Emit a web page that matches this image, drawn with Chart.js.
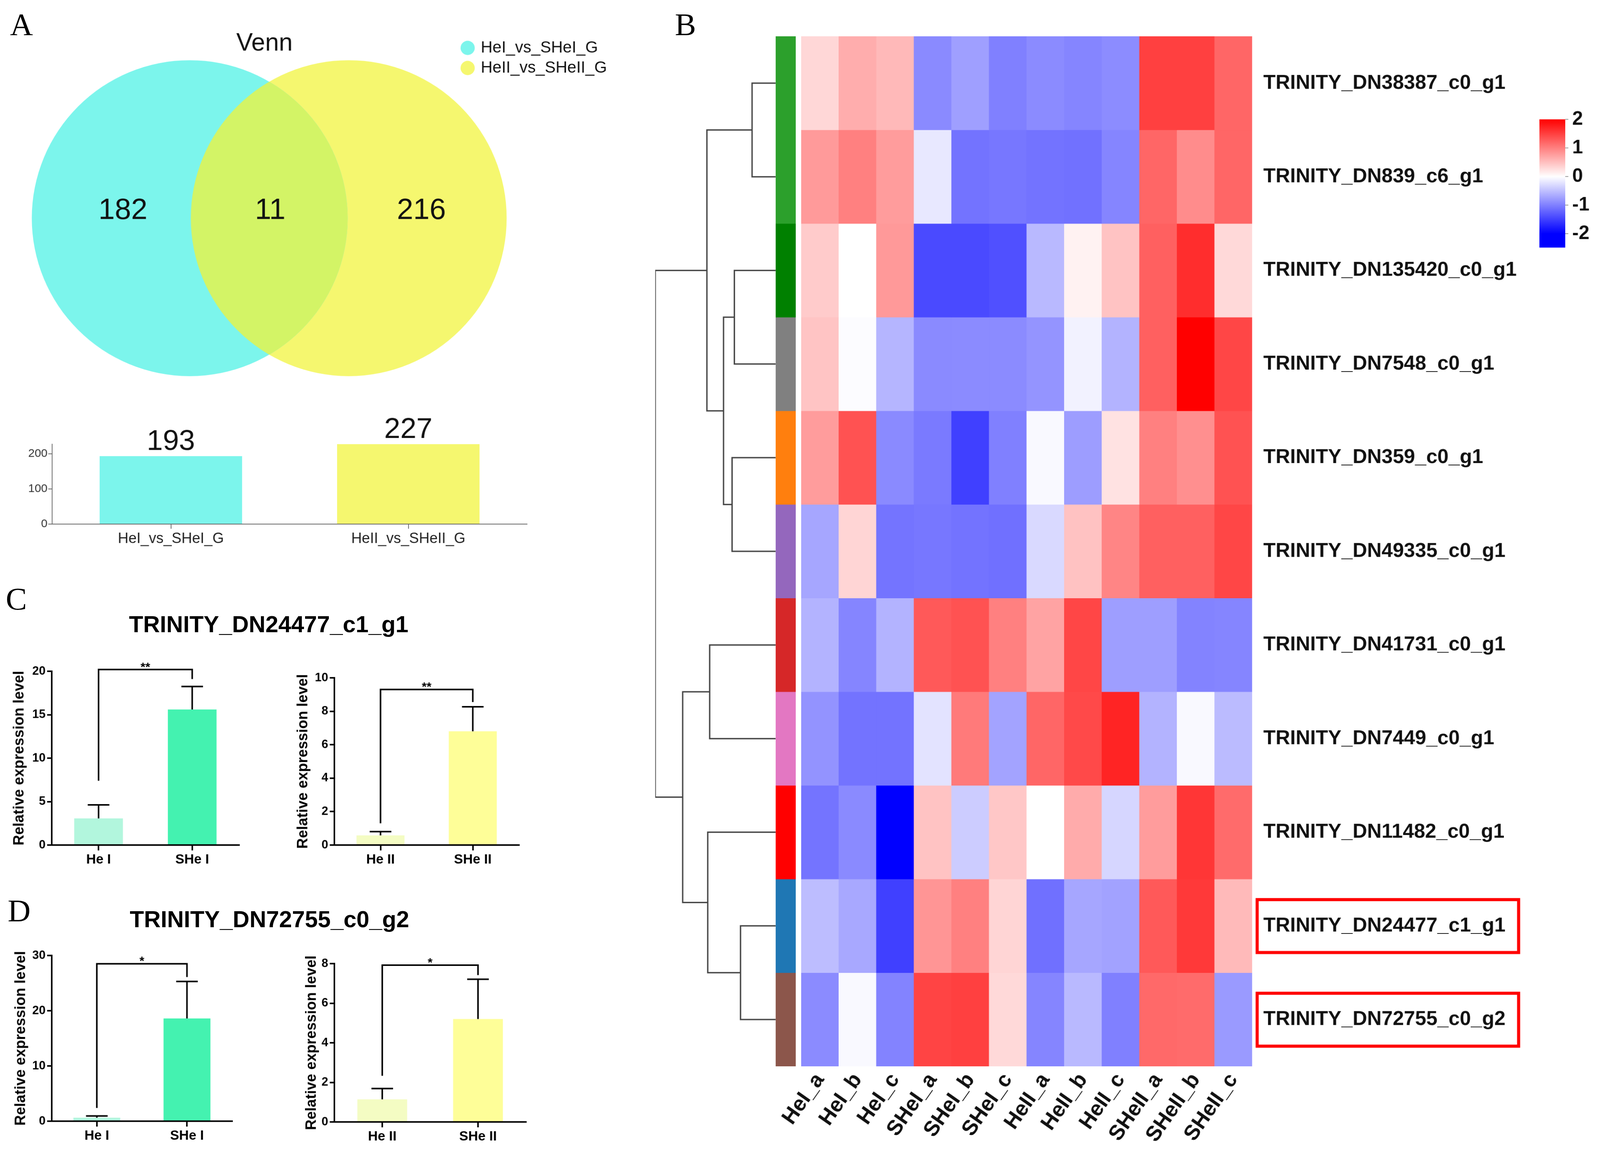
<!DOCTYPE html>
<html>
<head>
<meta charset="utf-8">
<title>Venn, heatmap and qPCR panels</title>
<script src="https://cdn.jsdelivr.net/npm/chart.js@4.4.1/dist/chart.umd.min.js"></script>
<style>
  html, body { margin: 0; padding: 0; background: #fff; overflow: hidden; }
  #figure { position: relative; width: 4144px; height: 2979px; background: #fff; overflow: hidden; transform-origin: 0 0; }
  #figure canvas { position: absolute; }
  .panel-letter { position: absolute; font-family: "Liberation Serif", "Times New Roman", serif; font-size: 82px; line-height: 1; color: #000; }
  .panel-title { position: absolute; font-family: "Liberation Sans", Arial, sans-serif; font-weight: bold; font-size: 60px; line-height: 1; color: #000; transform: translate(-50%, -50%); white-space: nowrap; }
</style>
</head>
<body>
<div id="figure">
  <div class="panel-letter" style="left:26px;top:23px">A</div>
  <div class="panel-letter" style="left:1748px;top:23px">B</div>
  <div class="panel-letter" style="left:15px;top:1510px">C</div>
  <div class="panel-letter" style="left:20px;top:2318px">D</div>
  <div class="panel-title" style="left:696px;top:1617px">TRINITY_DN24477_c1_g1</div>
  <div class="panel-title" style="left:698px;top:2381px">TRINITY_DN72755_c0_g2</div>
</div>
<script>
// ---- Panel A: Venn + totals ----
const vennSets = ["HeI_vs_SHeI_G", "HeII_vs_SHeII_G"];
const vennColors = ["#7cf5ec", "#f5f76f"];
const vennOverlapColor = "#d3f466";
const vennCounts = [182, 11, 216];   // only first, shared, only second
const setTotals = [193, 227];

// ---- Panel B: heatmap ----
const sampleNames = ["HeI_a", "HeI_b", "HeI_c", "SHeI_a", "SHeI_b", "SHeI_c",
                     "HeII_a", "HeII_b", "HeII_c", "SHeII_a", "SHeII_b", "SHeII_c"];
const geneNames = [
    "TRINITY_DN38387_c0_g1", "TRINITY_DN839_c6_g1", "TRINITY_DN135420_c0_g1",
    "TRINITY_DN7548_c0_g1", "TRINITY_DN359_c0_g1", "TRINITY_DN49335_c0_g1",
    "TRINITY_DN41731_c0_g1", "TRINITY_DN7449_c0_g1", "TRINITY_DN11482_c0_g1",
    "TRINITY_DN24477_c1_g1", "TRINITY_DN72755_c0_g2"
];
const highlightGenes = ["TRINITY_DN24477_c1_g1", "TRINITY_DN72755_c0_g2"];
const rowGroupColors = ["#2ca02c", "#2ca02c", "#008000", "#808080", "#ff7f0e", "#9467bd",
                        "#d62728", "#e377c2", "#ff0000", "#1f77b4", "#8c564b"];
const zScores = [
    [ 0.31,  0.64,  0.55, -0.92, -0.75, -1.00, -0.91, -0.96, -0.90,  1.50,  1.50,  1.20],
    [ 0.79,  1.00,  0.78, -0.18, -1.10, -1.07, -1.10, -1.11, -0.96,  1.20,  0.90,  1.20],
    [ 0.41,  0.00,  0.80, -1.42, -1.42, -1.37, -0.55,  0.10,  0.47,  1.25,  1.65,  0.30],
    [ 0.46, -0.02, -0.58, -0.92, -0.91, -0.91, -0.84, -0.10, -0.60,  1.25,  2.00,  1.45],
    [ 0.78,  1.36, -0.92, -1.04, -1.50, -1.00, -0.05, -0.77,  0.23,  1.00,  0.88,  1.36],
    [-0.70,  0.33, -1.09, -1.07, -1.10, -1.12, -0.30,  0.48,  0.96,  1.25,  1.25,  1.45],
    [-0.60, -0.96, -0.60,  1.30,  1.36,  1.00,  0.72,  1.45, -0.76, -0.76, -0.97, -0.96],
    [-0.85, -1.10, -1.10, -0.22,  1.04, -0.72,  1.20,  1.43,  1.72, -0.60, -0.05, -0.53],
    [-1.09, -0.92, -2.00,  0.47, -0.40,  0.44,  0.00,  0.66, -0.32,  0.78,  1.58,  1.16],
    [-0.52, -0.68, -1.50,  0.83,  1.00,  0.33, -1.12, -0.70, -0.73,  1.30,  1.55,  0.54],
    [-0.91, -0.05, -0.97,  1.47,  1.50,  0.30, -0.96, -0.55, -1.00,  1.18,  1.16, -0.79]
];
// row clustering: pairs of leaf/node ids (leaves 0..10, new nodes from 11 up) and merge heights
const dendroMerges = [[0, 1], [2, 3], [4, 5], [12, 13], [11, 14], [6, 7], [9, 10], [8, 17], [16, 18], [15, 19]];
const dendroHeights = [1.96, 3.43, 3.62, 4.33, 5.71, 5.48, 2.92, 5.64, 7.72, 10.0];
const colorbarTicks = [-2, -1, 0, 1, 2];
const colorbarRange = [-2.48, 2];

// ---- Panels C and D: qPCR ----
const groupsI = ["He I", "SHe I"];
const groupsII = ["He II", "SHe II"];
const dn24477MeanI = [3.07, 15.6];
const dn24477SdI = [1.55, 2.65];
const dn24477MeanII = [0.58, 6.8];
const dn24477SdII = [0.22, 1.47];
const dn72755MeanI = [0.63, 18.6];
const dn72755SdI = [0.32, 6.7];
const dn72755MeanII = [1.14, 5.2];
const dn72755SdII = [0.55, 2.01];
const qpcrColorsI = ["#b2f6dd", "#44f2b0"];
const qpcrColorsII = ["#f4fcc3", "#fefe98"];

// Chart-wide defaults
const FONT = '"Liberation Sans", Arial, sans-serif';
Chart.defaults.font.family = FONT;
Chart.defaults.color = "#000";
Chart.defaults.animation = false;
Chart.defaults.responsive = false;
Chart.defaults.devicePixelRatio = 1;
Chart.defaults.events = [];
Chart.defaults.plugins.legend.display = false;
Chart.defaults.plugins.tooltip.enabled = false;
Chart.defaults.layout.autoPadding = false;

// keep the whole 4144 x 2979 figure inside the visible viewport
const figure = document.getElementById("figure");
const fitScale = Math.min(window.innerWidth / 4144, window.innerHeight / 2979);
if (fitScale < 0.999) figure.style.transform = `scale(${fitScale})`;

function addCanvas(left, top, width, height) {
    const c = document.createElement("canvas");
    c.width = width;
    c.height = height;
    c.style.left = left + "px";
    c.style.top = top + "px";
    figure.appendChild(c);
    return c;
}

// stop scales from pushing the plot area in for overhanging labels
function fixScale(s, size) {
    if (s.isHorizontal()) s.height = size;
    else s.width = size;
    s.paddingLeft = 0;
    s.paddingRight = 0;
    s.paddingTop = 0;
    s.paddingBottom = 0;
}

// z-score -> blue / white / red
function zColor(v) {
    const t = Math.min(Math.abs(v) / 2, 1);
    const k = Math.round(255 * (1 - t));
    return v < 0 ? `rgb(${k},${k},255)` : `rgb(255,${k},${k})`;
}

// ================= Panel A: Venn =================
const vennDecor = {
    id: "vennDecor",
    afterDatasetsDraw(chart, args, opts) {
        const { ctx, scales: { x, y } } = chart;
        const a = chart.getDatasetMeta(0).data[0];
        const b = chart.getDatasetMeta(1).data[0];
        const r = a.options.radius;
        ctx.save();
        ctx.beginPath();
        ctx.arc(a.x, a.y, r, 0, Math.PI * 2);
        ctx.clip();
        ctx.beginPath();
        ctx.arc(b.x, b.y, r, 0, Math.PI * 2);
        ctx.fillStyle = opts.overlapColor;
        ctx.fill();
        ctx.restore();

        ctx.save();
        ctx.fillStyle = "#111";
        ctx.textAlign = "center";
        ctx.textBaseline = "middle";
        ctx.font = "76px " + FONT;
        opts.countX.forEach((cx, i) => {
            ctx.fillText(String(vennCounts[i]), x.getPixelForValue(cx), y.getPixelForValue(opts.countY));
        });
        ctx.font = "64px " + FONT;
        ctx.fillText(opts.title, x.getPixelForValue(opts.titleX), y.getPixelForValue(opts.titleY));
        ctx.restore();
    }
};

new Chart(addCanvas(0, 0, 1582, 1000), {
    type: "scatter",
    data: {
        datasets: vennSets.map((name, i) => ({
            label: name,
            data: [{ x: i, y: 0 }],          // circle centres one radius apart
            backgroundColor: vennColors[i],
            pointRadius: 409,
            pointBorderWidth: 0,
            borderWidth: 0,
            clip: false
        }))
    },
    options: {
        layout: { padding: { top: 93 }, autoPadding: false },
        scales: {
            x: { display: false, min: -1.193, max: 1.692 },
            y: { display: false, min: -1.064, max: 1.154 }
        },
        plugins: {
            legend: {
                display: true,
                position: "right",
                align: "start",
                labels: {
                    usePointStyle: true,
                    pointStyle: "circle",
                    boxWidth: 26,
                    boxHeight: 26,
                    padding: 10,
                    color: "#111",
                    font: { size: 42 }
                }
            },
            vennDecor: {
                overlapColor: vennOverlapColor,
                countX: [-0.42, 0.506, 1.457],
                countY: 0.046,
                title: "Venn",
                titleX: 0.47,
                titleY: 1.105
            }
        }
    },
    plugins: [vennDecor]
});

// ================= Panel A: totals bar chart =================
const barValueLabels = {
    id: "barValueLabels",
    afterDatasetsDraw(chart) {
        const { ctx } = chart;
        const values = chart.data.datasets[0].data;
        ctx.save();
        ctx.font = "75px " + FONT;
        ctx.fillStyle = "#111";
        ctx.textAlign = "center";
        ctx.textBaseline = "alphabetic";
        chart.getDatasetMeta(0).data.forEach((bar, i) => {
            ctx.fillText(String(values[i]), bar.x, bar.y - 16);
        });
        ctx.restore();
    }
};

new Chart(addCanvas(0, 1080, 1400, 370), {
    type: "bar",
    data: {
        labels: vennSets,
        datasets: [{
            data: setTotals,
            backgroundColor: vennColors,
            barPercentage: 0.6,
            categoryPercentage: 1
        }]
    },
    options: {
        layout: { padding: { top: 70, right: 35 }, autoPadding: false },
        scales: {
            x: {
                grid: { offset: false, drawOnChartArea: false, tickLength: 12, lineWidth: 2, color: "#666" },
                border: { color: "#666", width: 2 },
                ticks: { font: { size: 38 }, color: "#222", padding: 4 },
                afterFit: (s) => fixScale(s, 93)
            },
            y: {
                min: 0,
                max: 227,
                grid: { drawOnChartArea: false, tickLength: 10, lineWidth: 2, color: "#666" },
                border: { color: "#666", width: 2 },
                ticks: { stepSize: 100, includeBounds: false, font: { size: 30 }, color: "#333", padding: 2 },
                afterFit: (s) => fixScale(s, 135)
            }
        }
    },
    plugins: [barValueLabels]
});

// ================= Panel B: dendrogram =================
const nodeY = geneNames.map((g, i) => i + 0.5);
const nodeH = geneNames.map(() => 0);
const dendroSegments = dendroMerges.map(([a, b], k) => {
    const id = geneNames.length + k;
    nodeY[id] = (nodeY[a] + nodeY[b]) / 2;
    nodeH[id] = dendroHeights[k];
    return [
        { x: nodeH[a], y: nodeY[a] },
        { x: nodeH[id], y: nodeY[a] },
        { x: nodeH[id], y: nodeY[b] },
        { x: nodeH[b], y: nodeY[b] }
    ];
});

new Chart(addCanvas(1697, 94, 312, 2667), {
    type: "scatter",
    data: {
        datasets: dendroSegments.map((seg) => ({
            data: seg,
            showLine: true,
            tension: 0,
            pointRadius: 0,
            borderColor: "#444",
            borderWidth: 3.5,
            clip: false
        }))
    },
    options: {
        layout: { padding: 0, autoPadding: false },
        scales: {
            x: { display: false, min: 0, max: 10, reverse: true },
            y: { display: false, min: 0, max: geneNames.length, reverse: true }
        }
    }
});

// ================= Panel B: row group colour strip =================
new Chart(addCanvas(2009, 94, 52, 2667), {
    type: "bar",
    data: {
        labels: [""],
        datasets: rowGroupColors.map((col, i) => ({
            data: [[i, i + 1]],
            backgroundColor: col,
            grouped: false,
            barPercentage: 1,
            categoryPercentage: 1,
            borderWidth: 0
        }))
    },
    options: {
        layout: { padding: 0, autoPadding: false },
        scales: {
            x: { display: false },
            y: { display: false, min: 0, max: geneNames.length, reverse: true }
        }
    }
});

// ================= Panel B: heatmap =================
const highlightBoxes = {
    id: "highlightBoxes",
    afterDraw(chart) {
        const { ctx, scales: { y } } = chart;
        ctx.save();
        ctx.font = "bold 52px " + FONT;
        ctx.strokeStyle = "#f00";
        ctx.lineWidth = 8;
        highlightGenes.forEach((g) => {
            const i = geneNames.indexOf(g);
            const yc = y.getPixelForValue(i + 0.5);
            const w = ctx.measureText(g).width;
            const x0 = y.left + 13;
            ctx.strokeRect(x0, yc - 68, (y.left + 29 - x0) + w + 34, 137);
        });
        ctx.restore();
    }
};

new Chart(addCanvas(1990, 94, 2154, 2885), {
    type: "bar",
    data: {
        labels: sampleNames,
        datasets: zScores.map((row, i) => ({
            label: geneNames[i],
            data: row.map(() => [i, i + 1]),
            backgroundColor: row.map(zColor),
            grouped: false,
            barPercentage: 1,
            categoryPercentage: 1,
            borderWidth: 0
        }))
    },
    options: {
        layout: { padding: { left: 85 }, autoPadding: false },
        scales: {
            x: {
                grid: { display: false, drawTicks: false },
                border: { display: false },
                ticks: {
                    autoSkip: false,
                    minRotation: 55,
                    maxRotation: 55,
                    padding: 6,
                    color: "#111",
                    font: { size: 55, weight: "bold" }
                },
                afterFit: (s) => fixScale(s, 218)
            },
            y: {
                type: "linear",
                position: "right",
                min: 0,
                max: geneNames.length,
                reverse: true,
                grid: { display: false, drawTicks: false },
                border: { display: false },
                afterBuildTicks: (s) => { s.ticks = geneNames.map((g, i) => ({ value: i + 0.5 })); },
                ticks: {
                    autoSkip: false,
                    padding: 29,
                    color: "#111",
                    font: { size: 52, weight: "bold" },
                    callback: (v, i) => geneNames[i]
                },
                afterFit: (s) => fixScale(s, 901)
            }
        }
    },
    plugins: [highlightBoxes]
});

// ================= Panel B: colour key =================
new Chart(addCanvas(3980, 260, 164, 420), {
    type: "bar",
    data: {
        labels: [""],
        datasets: [{
            data: [colorbarRange],
            barPercentage: 1,
            categoryPercentage: 1,
            borderWidth: 0,
            backgroundColor: (c) => {
                const chart = c.chart;
                if (!chart.chartArea) return "#fff";
                const ys = chart.scales.y;
                const [lo, hi] = colorbarRange;
                const g = chart.ctx.createLinearGradient(0, ys.getPixelForValue(lo), 0, ys.getPixelForValue(hi));
                [lo, -2, -1, 0, 1, 2].forEach((v) => g.addColorStop((v - lo) / (hi - lo), zColor(v)));
                return g;
            }
        }]
    },
    options: {
        layout: { padding: { left: 7, top: 49, bottom: 39 }, autoPadding: false },
        scales: {
            x: { display: false },
            y: {
                position: "right",
                min: colorbarRange[0],
                max: colorbarRange[1],
                grid: { drawOnChartArea: false, tickLength: 8, lineWidth: 2, color: "#999" },
                border: { display: false },
                afterBuildTicks: (s) => { s.ticks = colorbarTicks.map((v) => ({ value: v })); },
                ticks: { padding: 10, color: "#111", font: { size: 50, weight: "bold" } },
                afterFit: (s) => fixScale(s, 90)
            }
        }
    }
});

// ================= Panels C and D: qPCR bars =================
const qpcrDecor = {
    id: "qpcrDecor",
    afterDatasetsDraw(chart, args, opts) {
        const { ctx, scales: { y } } = chart;
        const means = chart.data.datasets[0].data;
        const bars = chart.getDatasetMeta(0).data;
        ctx.save();
        ctx.strokeStyle = "#000";
        ctx.lineWidth = 4;
        bars.forEach((bar, i) => {
            const top = y.getPixelForValue(means[i] + opts.sd[i]);
            ctx.beginPath();
            ctx.moveTo(bar.x, bar.y);
            ctx.lineTo(bar.x, top);
            ctx.moveTo(bar.x - 28, top);
            ctx.lineTo(bar.x + 28, top);
            ctx.stroke();
        });
        const [leftFoot, top, rightFoot] = opts.bracket;
        const x0 = bars[0].x, x1 = bars[1].x, yTop = y.getPixelForValue(top);
        ctx.beginPath();
        ctx.moveTo(x0, y.getPixelForValue(leftFoot));
        ctx.lineTo(x0, yTop);
        ctx.lineTo(x1, yTop);
        ctx.lineTo(x1, y.getPixelForValue(rightFoot));
        ctx.stroke();
        ctx.font = "bold 32px " + FONT;
        ctx.fillStyle = "#000";
        ctx.textAlign = "center";
        ctx.textBaseline = "alphabetic";
        ctx.fillText(opts.sig, (x0 + x1) / 2, yTop + 4);
        ctx.restore();
    }
};

function createQpcrChart(box, groups, means, sd, colors, yMax, step, bracket, sig) {
    return new Chart(addCanvas(box.left, box.top, box.width, box.height), {
        type: "bar",
        data: {
            labels: groups,
            datasets: [{
                data: means,
                backgroundColor: colors,
                barPercentage: 0.52,
                categoryPercentage: 1
            }]
        },
        options: {
            layout: { padding: { top: box.padTop, right: box.padRight }, autoPadding: false },
            scales: {
                x: {
                    grid: { offset: false, drawOnChartArea: false, tickLength: 14, lineWidth: 4, color: "#000" },
                    border: { color: "#000", width: 4 },
                    ticks: { font: { size: 35, weight: "bold" }, color: "#000", padding: 3 },
                    afterFit: (s) => fixScale(s, box.xHeight)
                },
                y: {
                    min: 0,
                    max: yMax,
                    grid: { drawOnChartArea: false, tickLength: 12, lineWidth: 4, color: "#000" },
                    border: { color: "#000", width: 4 },
                    ticks: { stepSize: step, font: { size: 31, weight: "bold" }, color: "#000", padding: 4 },
                    title: {
                        display: true,
                        text: "Relative expression level",
                        font: { size: 38, weight: "bold" },
                        color: "#000",
                        padding: { top: box.titlePad }
                    },
                    afterFit: (s) => fixScale(s, box.yWidth)
                }
            },
            plugins: { qpcrDecor: { sd: sd, bracket: bracket, sig: sig } }
        },
        plugins: [qpcrDecor]
    });
}

createQpcrChart({ left: 0, top: 1680, width: 640, height: 580, padTop: 58, padRight: 21, xHeight: 72, yWidth: 134, titlePad: 28 },
    groupsI, dn24477MeanI, dn24477SdI, qpcrColorsI, 20, 5, [7.4, 20.2, 19.1], "**");
createQpcrChart({ left: 720, top: 1680, width: 660, height: 580, padTop: 75, padRight: 36, xHeight: 72, yWidth: 146, titlePad: 43 },
    groupsII, dn24477MeanII, dn24477SdII, qpcrColorsII, 10, 2, [1.3, 9.3, 8.55], "**");
createQpcrChart({ left: 0, top: 2420, width: 620, height: 559, padTop: 54, padRight: 19, xHeight: 76, yWidth: 134, titlePad: 32 },
    groupsI, dn72755MeanI, dn72755SdI, qpcrColorsI, 30, 10, [2.4, 28.5, 26.1], "*");
createQpcrChart({ left: 720, top: 2420, width: 660, height: 559, padTop: 75, padRight: 18, xHeight: 74, yWidth: 146, titlePad: 65 },
    groupsII, dn72755MeanII, dn72755SdII, qpcrColorsII, 8, 2, [2.33, 7.92, 7.42], "*");
</script>
</body>
</html>
